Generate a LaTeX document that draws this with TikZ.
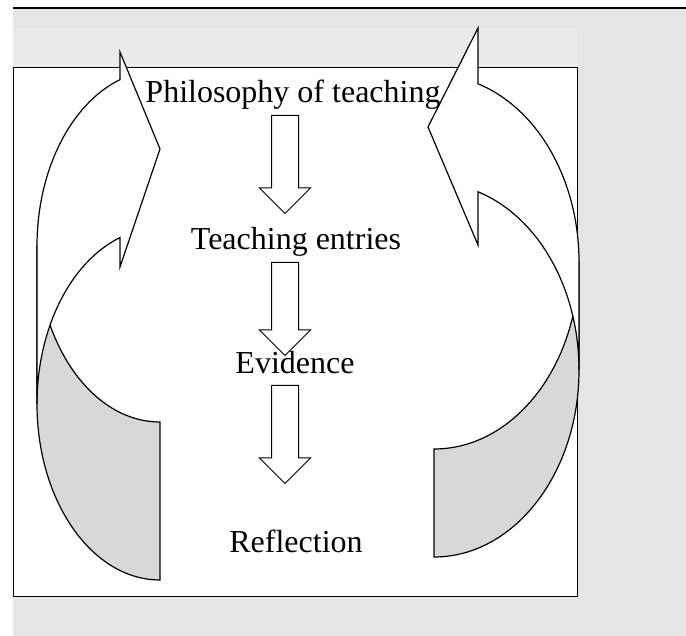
\documentclass[tikz,border=0pt]{standalone}
\usepackage{fontspec}
\setmainfont{Liberation Serif}
\usetikzlibrary{shapes.arrows}

\definecolor{pagegray}{HTML}{E5E5E5}
\definecolor{stripgray}{HTML}{EAEAEA}
\definecolor{backgray}{HTML}{D8D8D8}

\begin{document}
\begin{tikzpicture}[x=1pt, y=1pt,
                    stage/.style={font=\fontsize{32}{38}\selectfont, inner sep=0pt, anchor=base},
                    downarrow/.style={single arrow, draw, fill=white, line width=1pt, rotate=-90, anchor=tail,
                                      inner xsep=0pt, inner ysep=13pt, minimum height=98pt,
                                      single arrow head extend=12pt, single arrow tip angle=90},
                    backside/.style={draw, fill=backgray, line width=1.2pt},
                    frontside/.style={draw, fill=white, line width=1.2pt}
]
\useasboundingbox (0,0) rectangle (686,-636);

% page and frame
\fill[pagegray] (13,-9) rectangle (686,-636);
\fill[stripgray] (13,-28) rectangle (577,-68);
\draw[line width=2pt] (13,-8) -- (686,-8);
\draw[fill=white, line width=1pt] (13,-68) rectangle (577,-596);

% left curved arrow
\path[backside] (37,-246) arc[start angle=180, end angle=270, x radius=123, y radius=176]
      -- (160,-580) arc[start angle=270, end angle=180, x radius=123, y radius=176] -- cycle;
\path[frontside] (37,-404) arc[start angle=180, end angle=108.98, x radius=123, y radius=176]
      -- (120,-267) -- (160,-149) -- (120,-52) -- (120,-79.6)
      arc[start angle=108.98, end angle=180, x radius=123, y radius=176] -- cycle;

% right curved arrow
\path[backside] (579,-262) arc[start angle=0, end angle=-90, x radius=145, y radius=187]
      -- (434,-557) arc[start angle=-90, end angle=0, x radius=145, y radius=187] -- cycle;
\path[frontside] (579,-370) arc[start angle=0, end angle=72.34, x radius=145, y radius=187]
      -- (478,-245) -- (428,-127) -- (478,-28) -- (478,-83.8)
      arc[start angle=72.34, end angle=0, x radius=145, y radius=187] -- cycle;

% stages
\node[stage] at (293,-103) (phil) {Philosophy of teaching};
\node[stage] at (296,-250) (entries) {Teaching entries};
\node[stage] at (295,-374) (evid) {Evidence};
\node[stage] at (296,-552) (refl) {Reflection};

\node[downarrow] at (285,-115) (a1) {};
\node[downarrow, minimum height=93pt] at (285,-262) (a2) {};
\node[downarrow] at (285,-385) (a3) {};
\end{tikzpicture}
\end{document}
